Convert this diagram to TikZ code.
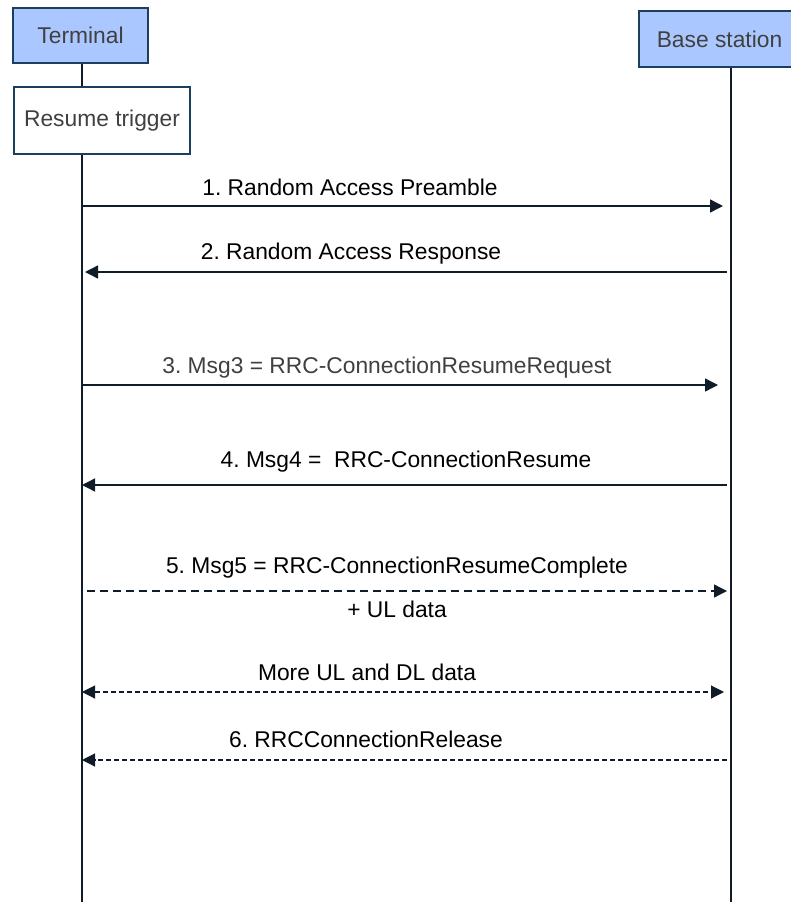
\documentclass[tikz,border=0pt]{standalone}
\usepackage{fontspec}
\setmainfont{Liberation Sans}
\usetikzlibrary{arrows.meta}
\definecolor{boxblue}{HTML}{AAC8FF}
\definecolor{boxedge}{HTML}{1C3F5E}
\definecolor{ink}{HTML}{101C28}
\definecolor{txtgray}{HTML}{404040}
\frenchspacing
\begin{document}
\begin{tikzpicture}[x=1pt,y=-1pt,
  font=\fontsize{22.8}{27}\selectfont,
  head/.tip={Triangle[length=13pt,width=13pt]},
  actor/.style={draw=boxedge,line width=2pt,fill=boxblue,text=txtgray,
    minimum width=#1,minimum height=55pt,inner sep=0pt},
  event/.style={draw=boxedge,line width=2pt,fill=white,text=txtgray,
    minimum width=176pt,minimum height=67pt,inner sep=0pt},
  life/.style={draw=ink,line width=2pt},
  msg/.style={draw=ink,line width=1.4pt,-head},
  msgdash/.style={msg,dash pattern=on 8pt off 5pt},
  msgdot/.style={draw=ink,line width=1.1pt,dash pattern=on 5pt off 3pt,-head},
  lbl/.style={anchor=base,inner sep=0pt,text=black}]
\useasboundingbox (0,0) rectangle (790,902);

% lifeline x positions
\coordinate (tx) at (82,0);
\coordinate (bx) at (731,0);

% participants
\node[actor=135pt] (term) at (80.5,35.5) {Terminal};
\node[event] (res) at (102,120.5) {Resume trigger};
\node[actor=161pt,minimum height=56pt] (base) at (719.5,39) {Base station};

% lifelines
\coordinate (tend) at (82,902);
\coordinate (bend) at (731,902);
\draw[life] (term.south -| tx) -- (res.north -| tx);
\draw[life] (res.south -| tx) -- (tend);
\draw[life] (base.south -| bx) -- (bend);

% message end points
\coordinate (a1) at (82,206);  \coordinate (b1) at (723,206);
\coordinate (a2) at (85,272);  \coordinate (b2) at (727,272);
\coordinate (a3) at (82,385);  \coordinate (b3) at (718,385);
\coordinate (a4) at (82,485);  \coordinate (b4) at (727,485);
\coordinate (a5) at (87,591);  \coordinate (b5) at (727,591);
\coordinate (a6) at (82,692);  \coordinate (b6) at (724,692);
\coordinate (a7) at (82,760);  \coordinate (b7) at (727,760);

% messages
\draw[msg] (a1) -- (b1);
\draw[msg] (b2) -- (a2);
\draw[msg] (a3) -- (b3);
\draw[msg] (b4) -- (a4);
\draw[msgdash] (a5) -- (b5);
\draw[msgdot,head-head] (a6) -- (b6);
\draw[msgdot] (b7) -- (a7);

% message labels
\node[lbl] (l1) at (350,195) {1. Random Access Preamble};
\node[lbl] (l2) at (351,259) {2. Random Access Response};
\node[lbl,text=txtgray] (l3) at (387,373) {3. Msg3 = RRC-ConnectionResumeRequest};
\node[lbl] (l4) at (406,467) {4. Msg4 = \ RRC-ConnectionResume};
\node[lbl] (l5) at (397,573) {5. Msg5 = RRC-ConnectionResumeComplete};
\node[lbl] (l5b) at (397,617) {+ UL data};
\node[lbl] (l6) at (367,680) {More UL and DL data};
\node[lbl] (l7) at (366,747) {6. RRCConnectionRelease};
\end{tikzpicture}
\end{document}
